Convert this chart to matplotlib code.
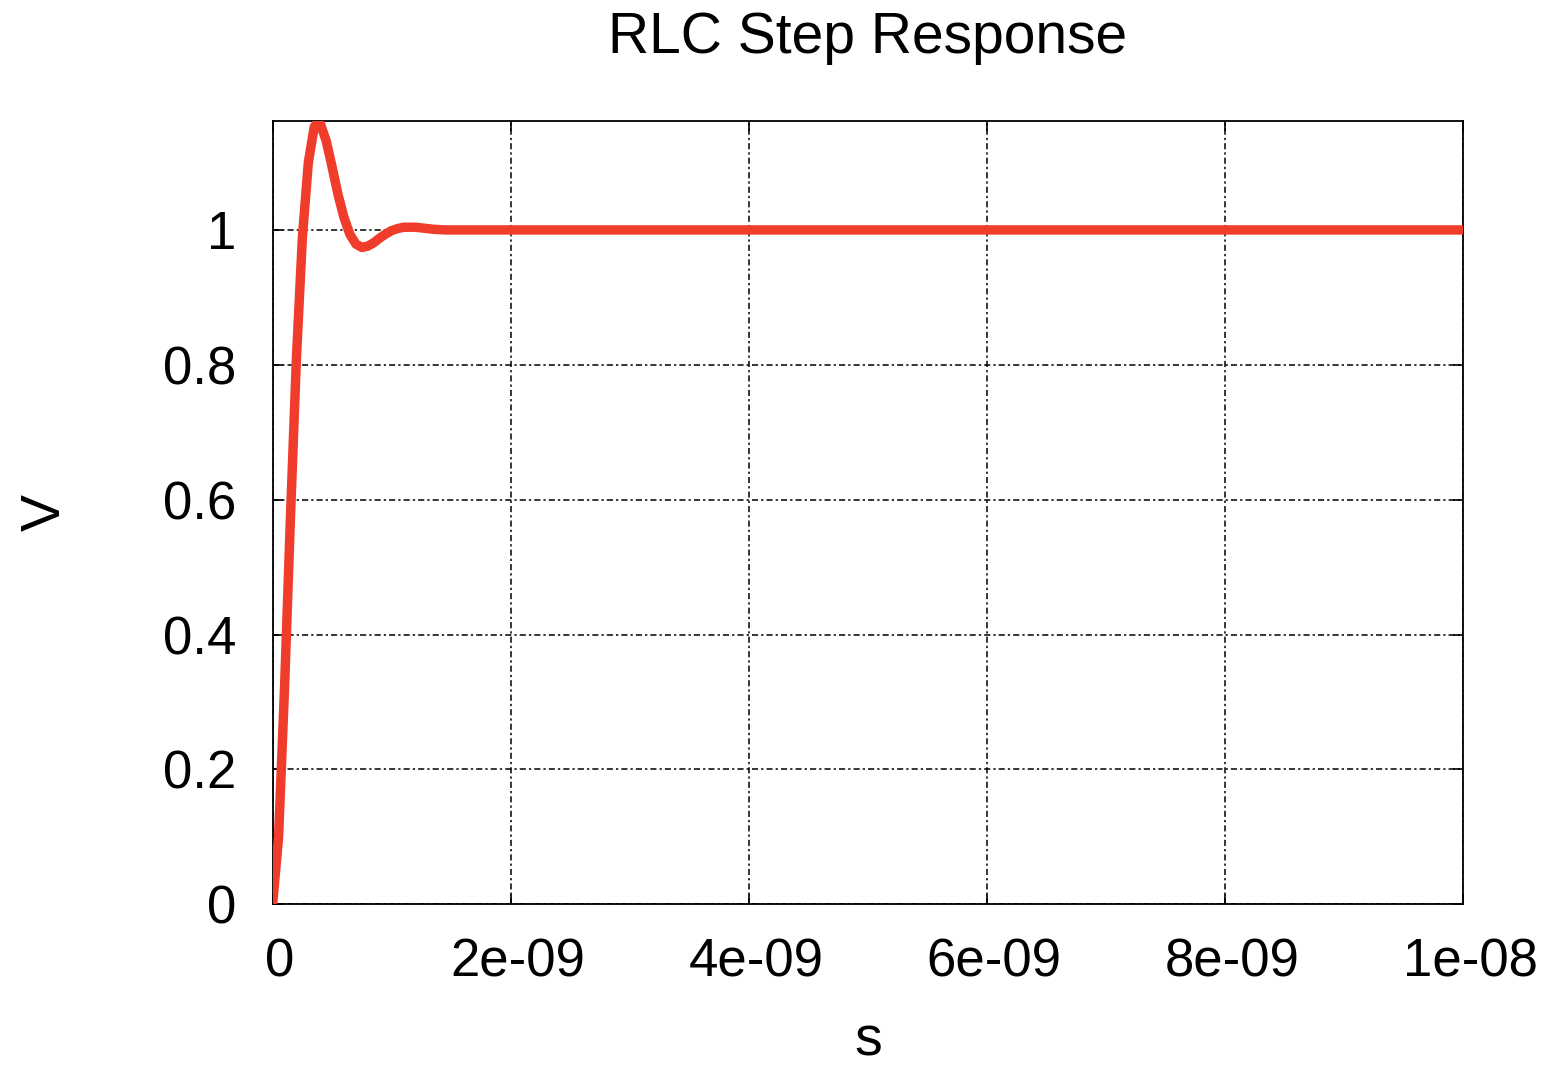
import matplotlib
matplotlib.use('Agg')
import matplotlib.pyplot as plt
import matplotlib.transforms as mtransforms
import numpy as np

plt.rcParams['font.family'] = ['Liberation Sans', 'DejaVu Sans']

# 时间采样点（单位 ns，读图估计）
time_ns = [0.0, 0.05, 0.1, 0.15, 0.2, 0.25, 0.3, 0.35, 0.38, 0.4, 0.45,
           0.5, 0.55, 0.6, 0.65, 0.7, 0.75, 0.8, 0.85, 0.9, 0.95,
           1.0, 1.05, 1.1, 1.15, 1.2, 1.25, 1.3, 1.35, 1.45, 1.6, 2.0, 10.0]
# 电压值（V）
volts = [0.0, 0.10, 0.32, 0.575, 0.81, 0.989, 1.10, 1.153, 1.16, 1.158, 1.132,
         1.093, 1.052, 1.018, 0.993, 0.979, 0.974, 0.976, 0.981, 0.988, 0.994,
         0.999, 1.002, 1.004, 1.004, 1.004, 1.003, 1.002, 1.001, 1.0, 1.0, 1.0, 1.0]

x_ticks = [0, 2e-9, 4e-9, 6e-9, 8e-9, 1e-8]
x_labels = ['0', '2e-09', '4e-09', '6e-09', '8e-09', '1e-08']
y_ticks = [0, 0.2, 0.4, 0.6, 0.8, 1]
y_labels = ['0', '0.2', '0.4', '0.6', '0.8', '1']

fig = plt.figure(figsize=(15.49, 10.66), dpi=100)
ax = fig.add_axes([0.176, 0.1517, 0.7685, 0.7351])

t = np.array(time_ns) * 1e-9
ax.plot(t, volts, color='#F03C2A', lw=6.8, solid_joinstyle='round',
        solid_capstyle='round', zorder=3)

ax.set_xlim(0, 1e-8)
ax.set_ylim(0, 1.162)
ax.set_xticks(x_ticks)
ax.set_xticklabels(x_labels)
ax.set_yticks(y_ticks)
ax.set_yticklabels(y_labels)

ax.grid(True, color='black', lw=1.1, linestyle=(0, (4, 2, 1.5, 2)))
ax.tick_params(direction='in', length=7, width=1.2, labelsize=38,
               top=True, right=True, pad=24)
ax.tick_params(axis='y', pad=26)
for sp in ax.spines.values():
    sp.set_linewidth(1.3)

# x 轴刻度标签略微右移，和原图一致
shift = mtransforms.ScaledTranslation(7 / 100, 0, fig.dpi_scale_trans)
for lab in ax.get_xticklabels():
    lab.set_transform(lab.get_transform() + shift)

ax.set_title('RLC Step Response', fontsize=41, pad=49)
ax.set_xlabel('s', fontsize=40, labelpad=20)
ax.set_ylabel('V', fontsize=40, labelpad=66)

fig.savefig('out.png', dpi=100)
